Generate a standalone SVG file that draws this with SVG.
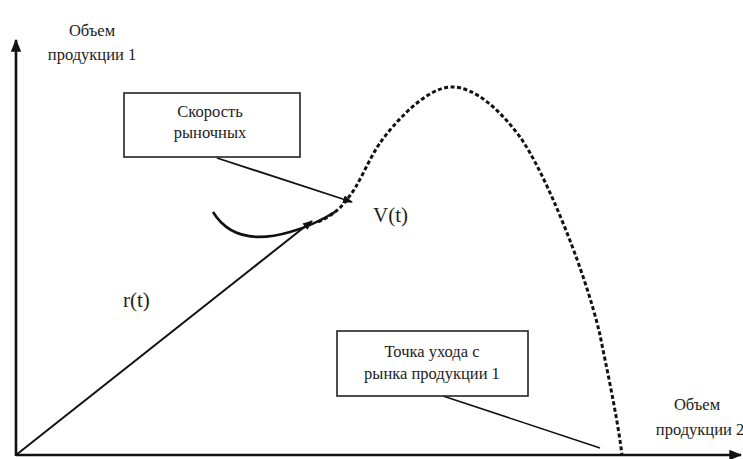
<svg xmlns="http://www.w3.org/2000/svg" width="743" height="459" viewBox="0 0 743 459">
<defs>
<marker id="ah" viewBox="0 0 10 10" refX="9" refY="5" markerWidth="10" markerHeight="10" markerUnits="userSpaceOnUse" orient="auto">
<path d="M0,1 L10,5 L0,9 z" fill="#111"/>
</marker>
<marker id="ahs" viewBox="0 0 10 10" refX="9" refY="5" markerWidth="13" markerHeight="13" markerUnits="userSpaceOnUse" orient="auto">
<path d="M0,1 L10,5 L0,9 z" fill="#111"/>
</marker>
</defs>
<style>
text{font-family:"Liberation Serif","DejaVu Serif","Times New Roman",serif;fill:#222;}
.lbl{font-size:16.5px;text-anchor:middle;}
.big{font-size:21px;}
.box{fill:#fff;stroke:#222;stroke-width:1.6;}
.ln{stroke:#111;fill:none;}
</style>
<rect width="743" height="459" fill="#fff"/>
<g id="axes">
<line class="ln" x1="16" y1="456" x2="16" y2="40" stroke-width="2.6" marker-end="url(#ahs)"/>
<line class="ln" x1="16" y1="455" x2="741" y2="455" stroke-width="2.6" marker-end="url(#ahs)"/>
<text class="lbl" x="92" y="36">Объем</text>
<text class="lbl" x="92" y="60">продукции 1</text>
<text class="lbl" x="697" y="410">Объем</text>
<text class="lbl" x="700" y="435">продукции 2</text>
</g>
<g id="connectors">
<line class="ln" x1="16" y1="455" x2="312" y2="221" stroke-width="2" marker-end="url(#ah)"/>
<path class="ln" d="M213,212 Q235,248 290,232 Q312,226 335,212" stroke-width="2.6"/>
<path class="ln" d="M318,222 Q338,213 347,199 C358,188 368,160 380,143 C392,126 425,87 452,87 C475,87 500,110 520,137 C545,172 585,270 600,335 C607,370 617,415 622,455" stroke-width="3" stroke-dasharray="4 2.5"/>
<line class="ln" x1="217" y1="158" x2="352" y2="202" stroke-width="1.8" marker-end="url(#ah)"/>
<line class="ln" x1="443" y1="396" x2="600" y2="448" stroke-width="1.6"/>
</g>
<g id="speed-box">
<rect class="box" x="124" y="93" width="176" height="64"/>
<text class="lbl" x="210" y="117">Скорость</text>
<text class="lbl" x="210" y="138">рыночных</text>
</g>
<g id="exit-box">
<rect class="box" x="337" y="331" width="191" height="65"/>
<text class="lbl" x="432" y="357">Точка ухода с</text>
<text class="lbl" x="432" y="379">рынка продукции 1</text>
</g>
<g id="labels">
<text class="big" x="373" y="222">V(t)</text>
<text class="big" x="123" y="307">r(t)</text>
</g>
</svg>
